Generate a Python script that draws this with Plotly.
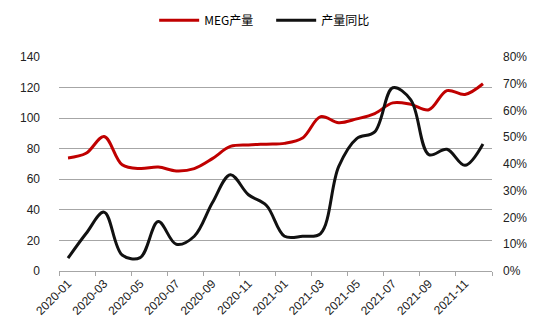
import plotly.graph_objects as go

months = ["2020-01","2020-02","2020-03","2020-04","2020-05","2020-06","2020-07","2020-08",
          "2020-09","2020-10","2020-11","2020-12","2021-01","2021-02","2021-03","2021-04",
          "2021-05","2021-06","2021-07","2021-08","2021-09","2021-10","2021-11","2021-12"]
meg_output = [74, 77, 88, 69.5, 67, 68, 65.5, 67, 73.5, 81.5, 82.5, 83, 83.5, 87, 101, 97,
              99.5, 103, 110, 109, 105.5, 118, 115.5, 122.5]
yoy_pct = [4.8, 14, 22, 6, 5, 18.5, 10, 13, 25.5, 36, 28.5, 24.5, 13, 13, 14, 39,
           49.5, 52, 68.5, 64, 43.5, 45.5, 39.5, 47.5]
left_ticks = [0, 20, 40, 60, 80, 100, 120, 140]
right_ticks = [0, 10, 20, 30, 40, 50, 60, 70, 80]

idx = list(range(len(months)))
label_idx = idx[::2]

fig = go.Figure()
fig.add_trace(go.Scatter(x=idx, y=meg_output, name="MEG产量", mode="lines",
                         line=dict(color="#C00000", width=3, shape="spline", smoothing=1.0)))
fig.add_trace(go.Scatter(x=idx, y=yoy_pct, name="产量同比", mode="lines", yaxis="y2",
                         line=dict(color="#111111", width=3, shape="spline", smoothing=1.0)))

tickfont = dict(family="Liberation Sans, Arial, sans-serif", size=12, color="#222222")
fig.update_layout(
    width=550, height=333,
    margin=dict(l=59, r=58, t=57, b=62),
    paper_bgcolor="white", plot_bgcolor="white",
    showlegend=True,
    legend=dict(orientation="h", x=0.49, xanchor="center", y=0.983, yref="container",
                yanchor="top", font=dict(family="Noto Sans CJK SC", size=12, color="#000000"),
                itemwidth=40, tracegroupgap=0, entrywidth=62),
    xaxis=dict(range=[-0.5, 23.5], tickmode="array", tickvals=label_idx,
               ticktext=[months[i] for i in label_idx], tickangle=-45, ticks="",
               showgrid=False, zeroline=False, showline=True, linecolor="#A6A6A6",
               linewidth=1, tickfont=tickfont,
               minor=dict(ticks="outside", tick0=-0.5, dtick=2, ticklen=4,
                          tickcolor="#A6A6A6", showgrid=False)),
    yaxis=dict(range=[0, 140], tickmode="array", tickvals=left_ticks, showgrid=True,
               gridcolor="#A6A6A6", gridwidth=1, zeroline=False, tickfont=tickfont,
               ticks="", ticklabelstandoff=18),
    yaxis2=dict(range=[0, 80], tickmode="array", tickvals=right_ticks,
                ticktext=[f"{v}%" for v in right_ticks], overlaying="y", side="right",
                showgrid=False, zeroline=False, tickfont=tickfont, ticks="",
                ticklabelstandoff=10),
)
fig.write_html("out.html")
